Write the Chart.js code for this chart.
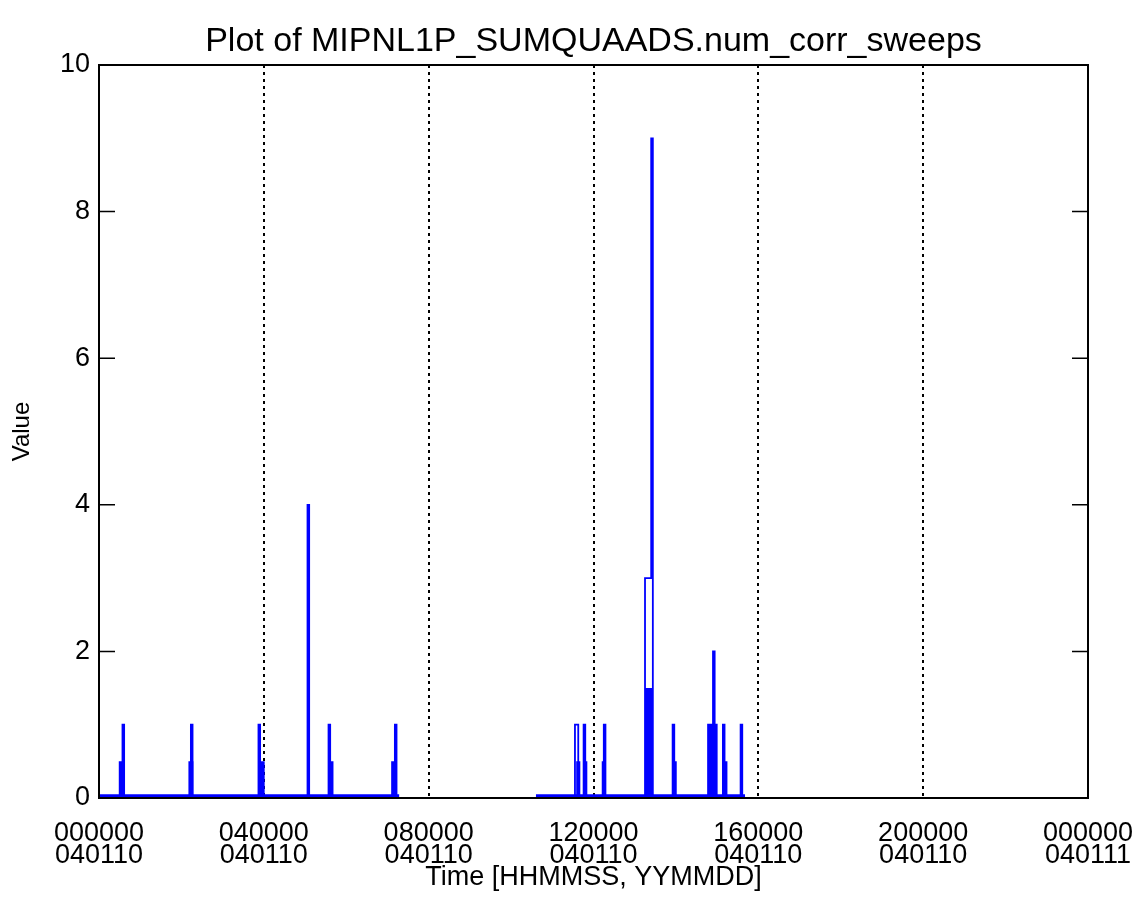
<!DOCTYPE html>
<html>
<head>
<meta charset="utf-8">
<script src="https://cdn.jsdelivr.net/npm/chart.js@4"></script>
<style>
  html, body { margin: 0; padding: 0; background: #fff; }
  #wrap { width: 1144px; height: 922px; }
</style>
</head>
<body>
<div id="wrap"><canvas id="plot" width="1144" height="922"></canvas></div>
<script>
// hours since 000000 040110; null breaks the trace where there is no data
const traceTimes = [0, 0.57, 0.61, 2.23, 2.27, 3.87, 3.91, 5.06, 5.10, 5.57, 5.61, 7.18, 7.22, 7.29, 8.0,
  10.60, 11.55, 11.63, 11.76, 11.80, 12.25, 12.29, 13.25, 13.40, 13.44, 13.92, 13.96, 14.78, 14.90, 14.94, 14.99,
  15.14, 15.18, 15.57, 15.61, 15.68];
const traceValues = [0, 1, 0, 1, 0, 1, 0, 4, 0, 1, 0, 1, 0, 0, null,
  0, 1, 0, 1, 0, 1, 0, 3, 9, 0, 1, 0, 1, 2, 1, 0,
  1, 0, 1, 0, 0];

// lower envelope of the densely sampled sweeps (filled)
const denseTimes = [0, 0.48, 0.62, 2.17, 2.29, 3.86, 4.02, 5.58, 5.69, 7.09, 7.22, 7.29, 8.0,
  10.60, 11.58, 11.68, 11.76, 11.85, 12.20, 12.30, 13.25, 13.44, 13.92, 14.02, 14.78, 14.98,
  15.19, 15.25, 15.68];
const denseValues = [0.05, 0.5, 0.05, 0.5, 0.05, 0.5, 0.05, 0.5, 0.05, 0.5, 0.05, 0.05, null,
  0.05, 0.5, 0.05, 0.5, 0.05, 0.5, 0.05, 1.5, 0.05, 0.5, 0.05, 1.0, 0.05,
  0.5, 0.05, 0.05];

const tickHours = ['000000', '040000', '080000', '120000', '160000', '200000', '000000'];
const tickDays = ['040110', '040110', '040110', '040110', '040110', '040110', '040111'];

const plotTitle = 'Plot of MIPNL1P_SUMQUAADS.num_corr_sweeps';
const FONT = "'Liberation Sans', Arial, Helvetica, sans-serif";
const BLUE = '#0000ff';

const toPoints = (xs, ys) => xs.map((x, i) => ({ x, y: ys[i] }));

// box around the plot with inward ticks on both value axes, plus the title
const framePlugin = {
  id: 'frame',
  afterDraw(chart) {
    const { ctx, chartArea: a, scales } = chart;
    ctx.save();
    ctx.strokeStyle = '#000';
    ctx.lineWidth = 2;
    ctx.strokeRect(a.left, a.top, a.right - a.left, a.bottom - a.top);
    ctx.lineWidth = 1.5;
    scales.y.ticks.forEach((t) => {
      const py = scales.y.getPixelForValue(t.value);
      ctx.beginPath();
      ctx.moveTo(a.left, py);
      ctx.lineTo(a.left + 16, py);
      ctx.moveTo(a.right, py);
      ctx.lineTo(a.right - 16, py);
      ctx.stroke();
    });
    ctx.fillStyle = '#000';
    ctx.font = '34px ' + FONT;
    ctx.textAlign = 'center';
    ctx.textBaseline = 'middle';
    ctx.fillText(plotTitle, (a.left + a.right) / 2, 42);
    ctx.restore();
  },
};

new Chart(document.getElementById('plot'), {
  type: 'line',
  data: {
    datasets: [
      {
        data: toPoints(traceTimes, traceValues),
        borderColor: BLUE,
        borderWidth: 1.8,
        pointRadius: 0,
        stepped: true,
        spanGaps: false,
      },
      {
        data: toPoints(denseTimes, denseValues),
        borderWidth: 0,
        borderColor: BLUE,
        backgroundColor: BLUE,
        pointRadius: 0,
        stepped: true,
        spanGaps: false,
        fill: 'origin',
      },
    ],
  },
  options: {
    responsive: false,
    animation: false,
    events: [],
    layout: { padding: { top: 65, right: 56, left: 0, bottom: 0 } },
    plugins: { legend: { display: false }, tooltip: { enabled: false }, title: { display: false } },
    scales: {
      x: {
        type: 'linear',
        min: 0,
        max: 24,
        z: 1,
        afterFit(s) {
          s.height = 124;
          s.paddingLeft = 0;
          s.paddingRight = 0;
        },
        border: { display: false, dash: [3, 4] },
        grid: {
          color: '#000',
          lineWidth: 2,
          drawTicks: false,
        },
        ticks: {
          stepSize: 4,
          padding: 24,
          color: '#000',
          maxRotation: 0,
          autoSkip: false,
          font: { family: FONT, size: 27, lineHeight: 0.82 },
          callback: (v) => [tickHours[v / 4], tickDays[v / 4]],
        },
        title: {
          display: true,
          text: 'Time [HHMMSS, YYMMDD]',
          color: '#000',
          font: { family: FONT, size: 27 },
          padding: { top: 0, bottom: 28 },
        },
      },
      y: {
        min: 0,
        max: 10,
        afterFit(s) { s.width = 99; },
        border: { display: false },
        grid: { display: false, drawTicks: false },
        ticks: {
          stepSize: 2,
          padding: 9,
          color: '#000',
          font: { family: FONT, size: 27 },
        },
        title: {
          display: true,
          text: 'Value',
          color: '#000',
          font: { family: FONT, size: 24 },
          padding: { top: 8, bottom: 0 },
        },
      },
    },
  },
  plugins: [framePlugin],
});
</script>
</body>
</html>
